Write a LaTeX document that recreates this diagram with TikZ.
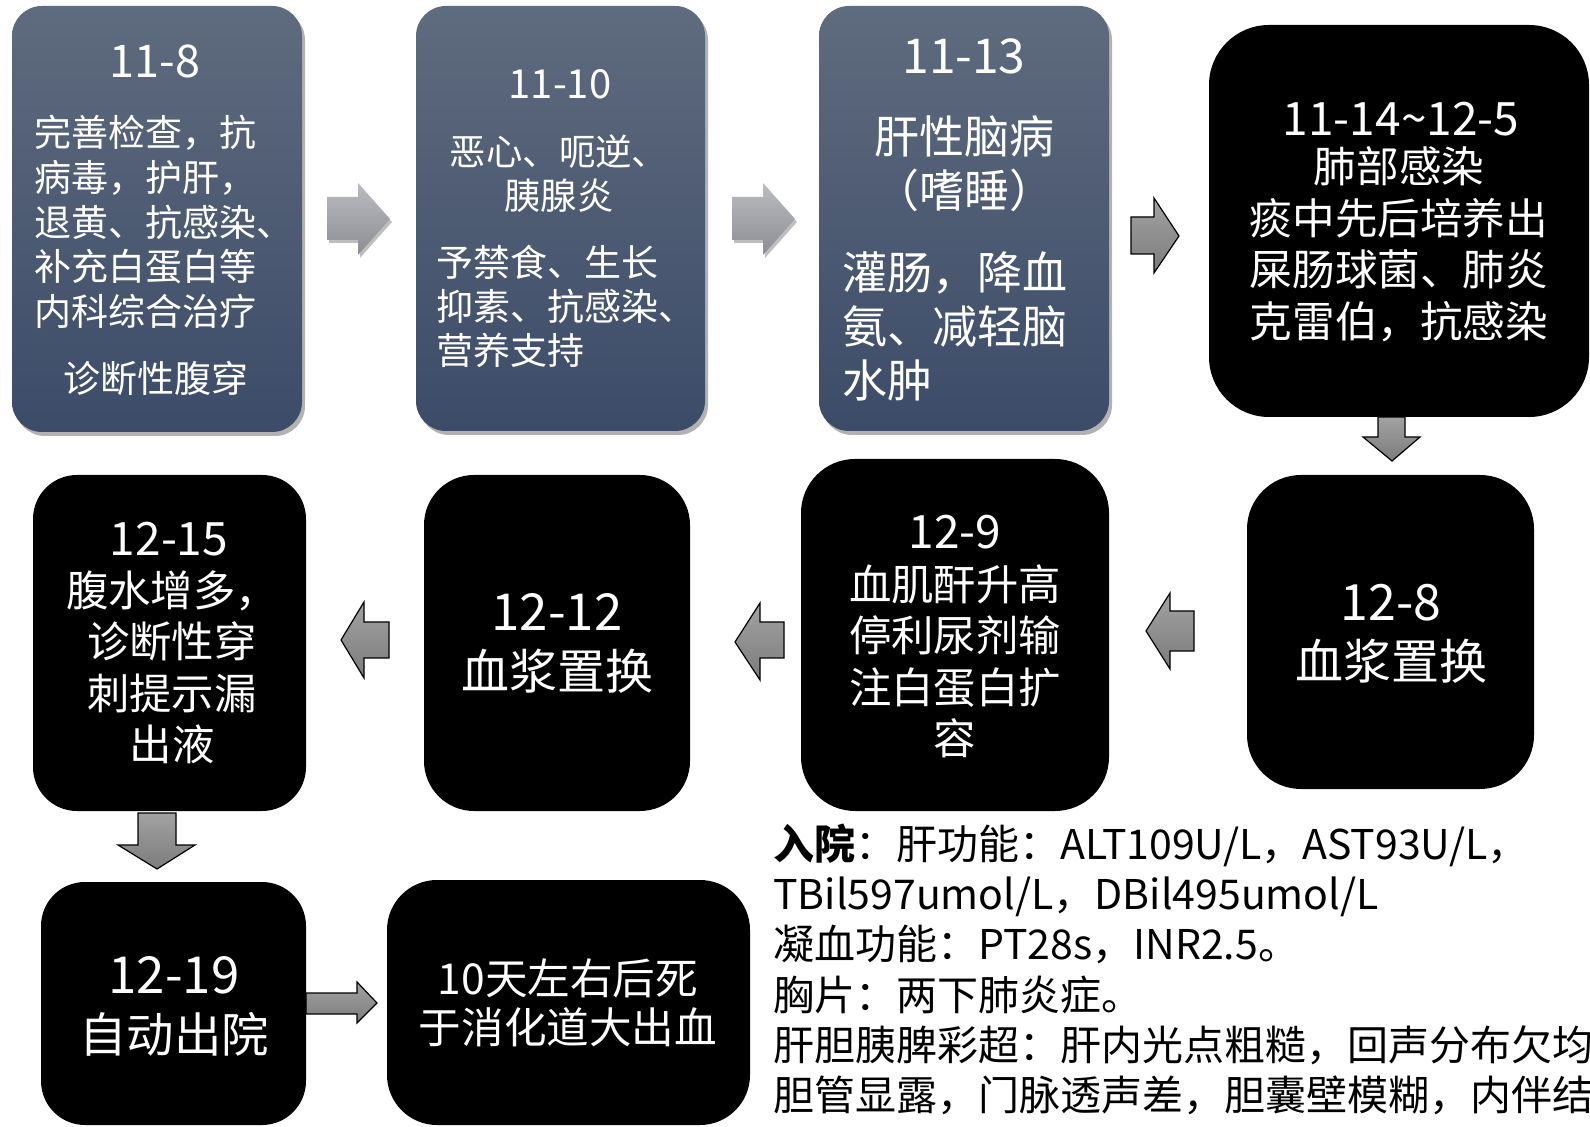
\documentclass[tikz,border=0pt]{standalone}
\usepackage{fontspec}
\setmainfont{Noto Sans CJK SC}
\usetikzlibrary{shadows,calc}
\definecolor{boxtop}{HTML}{5F6B7E}
\definecolor{boxbot}{HTML}{3C4B68}
\definecolor{arrtop}{HTML}{BABCC1}
\definecolor{arrbot}{HTML}{8C8E94}
\definecolor{darrtop}{HTML}{A2A2A2}
\definecolor{darrbot}{HTML}{7C7C7C}
\newcommand\fsz[2]{\fontsize{#1pt}{#2pt}\selectfont}
\begin{document}
\begin{tikzpicture}[x=0.5pt,y=-0.5pt,
  topbox/.style={rectangle, rounded corners=15pt, top color=boxtop, bottom color=boxbot, draw=none, inner sep=0pt,
    drop shadow={shadow xshift=1.5pt, shadow yshift=-2pt, opacity=0.3, fill=black}},
  blkbox/.style={rectangle, fill=black, draw=none, inner sep=0pt},
  wtext/.style={text=white, inner sep=0pt, align=center},
  wltext/.style={text=white, inner sep=0pt, align=left, anchor=west},
  lightarrow/.style={top color=arrtop, bottom color=arrbot, draw=none,
    drop shadow={shadow xshift=1pt, shadow yshift=-1.5pt, opacity=0.25, fill=black}},
  darkarrow/.style={top color=darrtop, bottom color=darrbot, draw=black, line width=0.6pt, line join=miter},
]
\useasboundingbox (0,0) rectangle (1590,1127);
\clip (0,0) rectangle (1590,1127);
\fill[white] (0,0) rectangle (1590,1127);

% ---------- block arrows ----------
\path[lightarrow] (327,197) -- (358,197) -- (358,183) -- (390,219) -- (358,255) -- (358,240) -- (327,240) -- cycle;
\path[lightarrow] (732,197) -- (763,197) -- (763,183) -- (795,219) -- (763,255) -- (763,240) -- (732,240) -- cycle;
\path[darkarrow] (1131,217) -- (1154,217) -- (1154,198) -- (1179,236) -- (1154,273) -- (1154,254) -- (1131,254) -- cycle;
\path[darkarrow] (1378,417) -- (1405,417) -- (1405,437) -- (1420,437) -- (1392,461) -- (1363,437) -- (1378,437) -- cycle;
\path[darkarrow] (1194,611) -- (1170,611) -- (1170,593) -- (1146,631) -- (1170,669) -- (1170,651) -- (1194,651) -- cycle;
\path[darkarrow] (784,622) -- (760,622) -- (760,603) -- (735,642) -- (760,680) -- (760,658) -- (784,658) -- cycle;
\path[darkarrow] (389,622) -- (364,622) -- (364,602) -- (341,640) -- (364,678) -- (364,658) -- (389,658) -- cycle;
\path[darkarrow] (138,813) -- (176,813) -- (176,845) -- (195,845) -- (157,869) -- (118,845) -- (138,845) -- cycle;
\path[darkarrow] (306,993) -- (357,993) -- (357,982) -- (377,1003) -- (357,1023) -- (357,1014) -- (306,1014) -- cycle;

% ---------- boxes ----------
\node[topbox, minimum width=145pt, minimum height=213pt] (b1) at (157,219) {};
\node[topbox, minimum width=144.5pt, minimum height=212.5pt] (b2) at (560.5,218.5) {};
\node[topbox, minimum width=145pt, minimum height=212.5pt] (b3) at (964,218.5) {};
\node[blkbox, rounded corners=30pt, minimum width=190pt, minimum height=196pt] (b4) at (1399,221) {};
\node[blkbox, rounded corners=27pt, minimum width=143.5pt, minimum height=157pt] (b5) at (1390.5,632) {};
\node[blkbox, rounded corners=27pt, minimum width=154pt, minimum height=176pt] (b6) at (955,635) {};
\node[blkbox, rounded corners=25pt, minimum width=133pt, minimum height=168pt] (b7) at (557,643) {};
\node[blkbox, rounded corners=22pt, minimum width=136.5pt, minimum height=168pt] (b8) at (169.5,643) {};
\node[blkbox, rounded corners=22pt, minimum width=132.5pt, minimum height=121.5pt] (b9) at (173.5,1003.5) {};
\node[blkbox, rounded corners=25pt, minimum width=181.5pt, minimum height=122.5pt] (b10) at (568.5,1002.5) {};

% ---------- texts ----------
\node[wtext, font=\fsz{22.5}{27}] (t1) at (155,61) {11-8};
\node[wltext, font=\fsz{18.5}{22.4}] (x1) at (34,222) {完善检查，抗\\病毒，护肝，\\退黄、抗感染、\\补充白蛋白等\\内科综合治疗};
\node[wtext, font=\fsz{18.5}{22.4}] (y1) at (156,378) {诊断性腹穿};

\node[wtext, font=\fsz{20}{24}] (t2) at (560,84) {11-10};
\node[wtext, font=\fsz{18.2}{22}] (x2) at (559,174) {恶心、呃逆、\\胰腺炎};
\node[wltext, font=\fsz{18.5}{22}] (y2) at (436,306) {予禁食、生长\\抑素、抗感染、\\营养支持};

\node[wtext, font=\fsz{24}{28}] (t3) at (964,56) {11-13};
\node[wtext, font=\fsz{22.5}{27}] (x3) at (964,164) {肝性脑病\\（嗜睡）};
\node[wltext, font=\fsz{22.5}{27}] (y3) at (842,326) {灌肠，降血\\氨、减轻脑\\水肿};

\node[wtext, font=\fsz{23}{27}] (t4) at (1401,119) {11-14\textasciitilde 12-5};
\node[wtext, font=\fsz{21.3}{25.8}] (x4) at (1399,244.5) {肺部感染\\痰中先后培养出\\屎肠球菌、肺炎\\克雷伯，抗感染};

\node[wtext, font=\fsz{25}{30}] (t5) at (1391,603) {12-8};
\node[wtext, font=\fsz{24}{29}] (x5) at (1391,661) {血浆置换};

\node[wtext, font=\fsz{23}{27}] (t6) at (955,532) {12-9};
\node[wtext, font=\fsz{21.2}{25.75}] (x6) at (955,661.5) {血肌酐升高\\停利尿剂输\\注白蛋白扩\\容};

\node[wtext, font=\fsz{25.5}{30}] (t7) at (557,612) {12-12};
\node[wtext, font=\fsz{24}{29}] (x7) at (557,671) {血浆置换};

\node[wtext, font=\fsz{23}{27}] (t8) at (169,539) {12-15};
\node[wtext, font=\fsz{21.2}{25.75}] (x8) at (172,667.5) {腹水增多，\\诊断性穿\\刺提示漏\\出液};

\node[wtext, font=\fsz{25.5}{30}] (t9) at (174,975) {12-19};
\node[wtext, font=\fsz{23.7}{28}] (x9) at (174,1034) {自动出院};

\node[wtext, font=\fsz{21.3}{24.5}] (x10) at (568,1002.5) {10天左右后死\\于消化道大出血};

\node[inner sep=0pt, align=left, anchor=west, font=\fsz{20.5}{25.1}] (info) at (773,969.5)
  {\textbf{入院}：肝功能：ALT109U/L，AST93U/L，\\TBil597umol/L，DBil495umol/L\\凝血功能：PT28s，INR2.5。\\胸片：两下肺炎症。\\肝胆胰脾彩超：肝内光点粗糙，回声分布欠均\\胆管显露，门脉透声差，胆囊壁模糊，内伴结};
\end{tikzpicture}
\end{document}
